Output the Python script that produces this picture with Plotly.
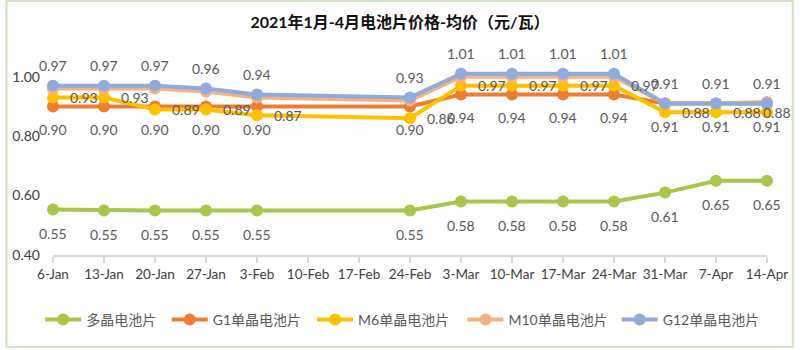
import plotly.graph_objects as go

categories = ["6-Jan", "13-Jan", "20-Jan", "27-Jan", "3-Feb", "10-Feb", "17-Feb", "24-Feb",
              "3-Mar", "10-Mar", "17-Mar", "24-Mar", "31-Mar", "7-Apr", "14-Apr"]

poly = [0.553, 0.55, 0.55, 0.55, 0.55, None, None, 0.55, 0.58, 0.58, 0.58, 0.58, 0.61, 0.65, 0.65]
g1 = [0.90, 0.90, 0.90, 0.90, 0.90, None, None, 0.90, 0.94, 0.94, 0.94, 0.94, 0.91, 0.91, 0.91]
m6 = [0.93, 0.93, 0.89, 0.89, 0.87, None, None, 0.86, 0.97, 0.97, 0.97, 0.97, 0.88, 0.88, 0.88]
m10 = [0.96, 0.96, 0.96, 0.95, 0.93, None, None, 0.92, 1.00, 1.00, 1.00, 1.00, 0.91, 0.91, 0.915]
g12 = [0.97, 0.97, 0.97, 0.96, 0.94, None, None, 0.93, 1.01, 1.01, 1.01, 1.01, 0.91, 0.91, 0.91]

series_names = ["多晶电池片", "G1单晶电池片", "M6单晶电池片", "M10单晶电池片", "G12单晶电池片"]
series_values = [poly, g1, m6, m10, g12]
colors = ["#A9C64A", "#ED7D31", "#FFC000", "#F4B183", "#8FAADC"]
label_pos = ["below", "below", "right", None, "above"]
legend_left_px = [40, 168, 315, 467, 623]

W, H = 800, 350
ML, MR, MT, MB = 49, 29, 47, 95
PW, PH = W - ML - MR, H - MT - MB

FONT = "Lato, 'Noto Sans CJK SC', sans-serif"


def px_x(p):
    return (p - ML) / PW


def px_y(p):
    return (H - MB - p) / PH


fig = go.Figure()
legend_layouts = {}
for j, (name, vals, col) in enumerate(zip(series_names, series_values, colors)):
    lname = "legend" if j == 0 else f"legend{j + 1}"
    fig.add_trace(go.Scatter(
        x=categories, y=vals, name=name, mode="lines+markers",
        connectgaps=True, cliponaxis=False,
        line=dict(color=col, width=4),
        marker=dict(color=col, size=12),
        legend=lname,
    ))
    legend_layouts[lname] = dict(
        orientation="h", x=px_x(legend_left_px[j] - 4), xanchor="left",
        y=px_y(320), yanchor="middle",
        font=dict(family=FONT, size=14, color="#595959"), itemwidth=36,
        bgcolor="rgba(0,0,0,0)", borderwidth=0,
    )

annotations = []
for k, (vals, pos) in enumerate(zip(series_values, label_pos)):
    if pos is None:
        continue
    for i, (c, v) in enumerate(zip(categories, vals)):
        if v is None:
            continue
        xs, ys, xa = 0, 0, "center"
        if pos == "below":
            ys = -24 if k == 0 else -23
        elif pos == "above":
            ys = 20
        else:
            xa = "left"
            xs = 15 if i < len(categories) - 1 else -6
        annotations.append(dict(
            x=c, y=v, xref="x", yref="y", text=f"{v:.2f}", showarrow=False,
            xanchor=xa, xshift=xs, yshift=ys,
            font=dict(family=FONT, size=14, color="#595959"),
        ))

fig.update_layout(
    width=W, height=H,
    margin=dict(l=ML, r=MR, t=MT, b=MB, pad=0),
    paper_bgcolor="white", plot_bgcolor="white",
    font=dict(family=FONT, color="#595959"),
    title=dict(text="<b>2021年1月-4月电池片价格-均价（元/瓦）</b>",
               x=0.5, xanchor="center", y=1 - 22 / H, yref="container", yanchor="middle",
               font=dict(family=FONT, size=16, color="#111111")),
    xaxis=dict(type="category", range=[0, len(categories) - 1],
               showgrid=False, showline=True, linecolor="#d9d9d9", linewidth=1.5,
               ticks="outside", ticklen=6, tickcolor="#d9d9d9", tickwidth=1.5,
               tickfont=dict(family=FONT, size=13.5, color="#404040"), zeroline=False),
    yaxis=dict(range=[0.4, 1.1], tickvals=[0.4, 0.6, 0.8, 1.0], tickformat=".2f",
               showgrid=False, showline=False, zeroline=False, ticks="",
               ticklabelstandoff=12,
               tickfont=dict(family=FONT, size=14, color="#404040")),
    showlegend=True,
    annotations=annotations,
    shapes=[dict(type="rect", xref="paper", yref="paper",
                 x0=px_x(2), x1=px_x(797), y0=px_y(347), y1=px_y(1),
                 line=dict(color="#CFE3C0", width=2), fillcolor="rgba(0,0,0,0)", layer="below")],
    **legend_layouts,
)

fig.write_html("out.html")
